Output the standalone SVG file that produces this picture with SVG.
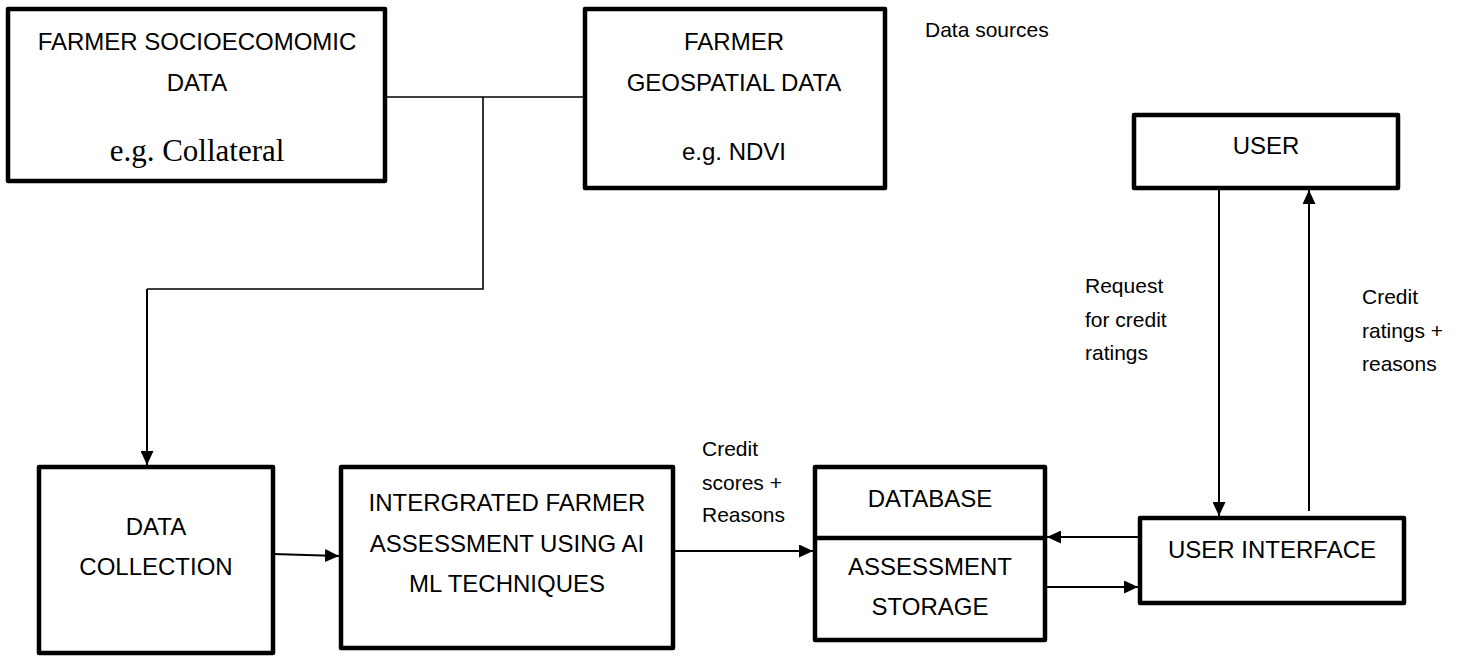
<svg xmlns="http://www.w3.org/2000/svg" width="1460" height="656" viewBox="0 0 1460 656">
<defs>
<style>
.box{fill:#fff;stroke:#000;stroke-width:4.5;stroke-linejoin:round}
.t{font-family:"Liberation Sans",Arial,sans-serif;font-size:24px;fill:#000;text-anchor:middle}
.s{font-family:"Liberation Serif","Times New Roman",serif;font-size:31px;fill:#000;text-anchor:middle}
.l{font-family:"Liberation Sans",Arial,sans-serif;font-size:21px;fill:#000}
.c{fill:none;stroke:#000;stroke-width:2}
.j{fill:none;stroke:#000;stroke-width:1.6}
</style>
<marker id="ah" viewBox="0 0 14 13" refX="14" refY="6.5" markerWidth="14" markerHeight="13" markerUnits="userSpaceOnUse" orient="auto">
<path d="M0,0 L14,6.5 L0,13 Z" fill="#000"/>
</marker>
</defs>
<rect width="1460" height="656" fill="#fff"/>

<g id="connectors">
<path class="j" d="M385,97 H585"/>
<path class="j" d="M483,97 V289 H147"/>
<path class="c" d="M147,289 V465" marker-end="url(#ah)"/>
<path class="c" d="M273,554 L339,556" marker-end="url(#ah)"/>
<path class="c" d="M673,551 H813" marker-end="url(#ah)"/>
<path class="c" d="M1140,537 H1047" marker-end="url(#ah)"/>
<path class="c" d="M1045,587 H1138" marker-end="url(#ah)"/>
<path class="c" d="M1219,188 V516" marker-end="url(#ah)"/>
<path class="c" d="M1309,511 V190" marker-end="url(#ah)"/>
</g>

<g id="socioeconomic">
<rect class="box" x="8" y="9" width="377" height="172"/>
<text class="t" x="197" y="50">FARMER SOCIOECOMOMIC</text>
<text class="t" x="197" y="91">DATA</text>
<text class="s" x="197" y="161">e.g. Collateral</text>
</g>

<g id="geospatial">
<rect class="box" x="585" y="9" width="300" height="179"/>
<text class="t" x="734" y="50">FARMER</text>
<text class="t" x="734" y="91">GEOSPATIAL DATA</text>
<text class="t" x="734" y="160">e.g. NDVI</text>
</g>

<g id="data-sources-label">
<text class="l" x="925" y="37">Data sources</text>
</g>

<g id="user">
<rect class="box" x="1134" y="115" width="264" height="73"/>
<text class="t" x="1266" y="154">USER</text>
</g>

<g id="data-collection">
<rect class="box" x="39" y="467" width="234" height="186"/>
<text class="t" x="156" y="535">DATA</text>
<text class="t" x="156" y="575">COLLECTION</text>
</g>

<g id="assessment">
<rect class="box" x="341" y="467" width="332" height="181"/>
<text class="t" x="507" y="511">INTERGRATED FARMER</text>
<text class="t" x="507" y="552">ASSESSMENT USING AI</text>
<text class="t" x="507" y="592">ML TECHNIQUES</text>
</g>

<g id="database">
<rect class="box" x="815" y="467" width="230" height="173"/>
<line x1="815" y1="538" x2="1045" y2="538" stroke="#000" stroke-width="4.5"/>
<text class="t" x="930" y="507">DATABASE</text>
<text class="t" x="930" y="575">ASSESSMENT</text>
<text class="t" x="930" y="615">STORAGE</text>
</g>

<g id="user-interface">
<rect class="box" x="1140" y="518" width="264" height="85"/>
<text class="t" x="1272" y="558">USER INTERFACE</text>
</g>

<g id="labels">
<text class="l" x="702" y="456">Credit</text>
<text class="l" x="702" y="490">scores +</text>
<text class="l" x="702" y="522">Reasons</text>
<text class="l" x="1085" y="293">Request</text>
<text class="l" x="1085" y="327">for credit</text>
<text class="l" x="1085" y="360">ratings</text>
<text class="l" x="1362" y="304">Credit</text>
<text class="l" x="1362" y="338">ratings +</text>
<text class="l" x="1362" y="371">reasons</text>
</g>
</svg>
